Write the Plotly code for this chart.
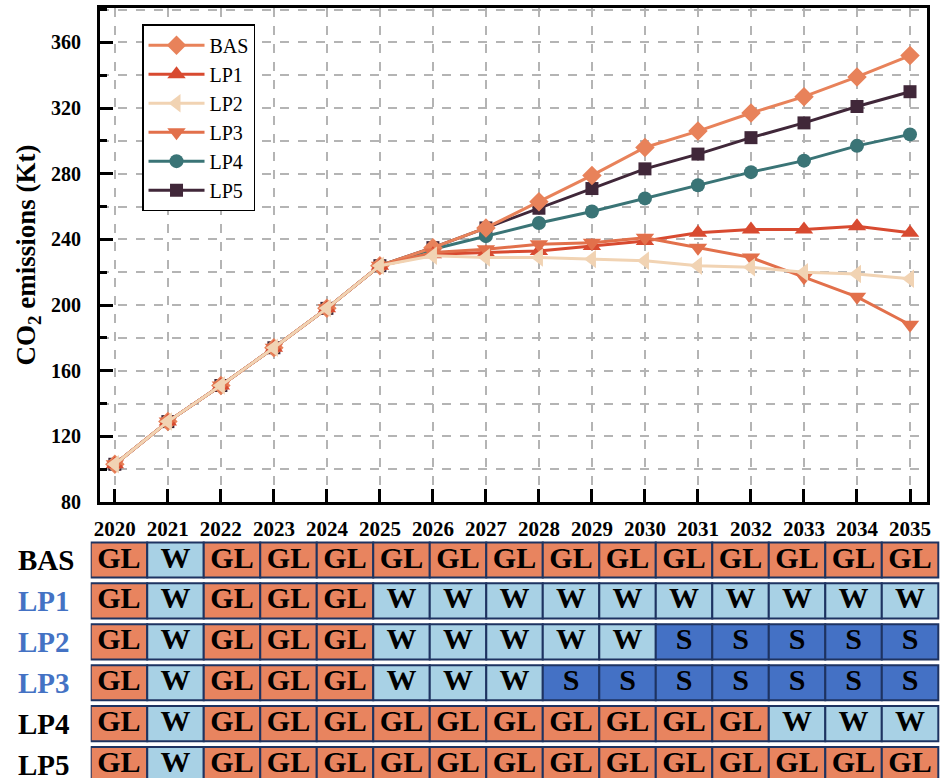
import plotly.graph_objects as go

# ---- emission trajectories (Kt CO2) ----
years = list(range(2020, 2036))
bas = [103, 129, 151, 174, 198, 224, 235, 247, 263, 279, 296, 306, 317, 327, 339, 352]
lp1 = [103, 129, 151, 174, 198, 224, 231, 232, 233, 236, 239, 244, 246, 246, 248, 244]
lp2 = [103, 129, 151, 174, 198, 224, 230, 229, 229, 228, 227, 224, 223, 220, 219, 216]
lp3 = [103, 129, 151, 174, 198, 224, 232, 234, 237, 238, 241, 235, 229, 217, 205, 188]
lp4 = [103, 129, 151, 174, 198, 224, 234, 242, 250, 257, 265, 273, 281, 288, 297, 304]
lp5 = [103, 129, 151, 174, 198, 224, 235, 247, 259, 271, 283, 292, 302, 311, 321, 330]

y_ticks = [80, 120, 160, 200, 240, 280, 320, 360]

# ---- strategy schedule table ----
row_names = ["BAS", "LP1", "LP2", "LP3", "LP4", "LP5"]
row_label_colors = ["#000000", "#4472C4", "#4472C4", "#4472C4", "#000000", "#000000"]
sched_bas = ["GL", "W", "GL", "GL", "GL", "GL", "GL", "GL", "GL", "GL", "GL", "GL", "GL", "GL", "GL"]
sched_lp1 = ["GL", "W", "GL", "GL", "GL", "W", "W", "W", "W", "W", "W", "W", "W", "W", "W"]
sched_lp2 = ["GL", "W", "GL", "GL", "GL", "W", "W", "W", "W", "W", "S", "S", "S", "S", "S"]
sched_lp3 = ["GL", "W", "GL", "GL", "GL", "W", "W", "W", "S", "S", "S", "S", "S", "S", "S"]
sched_lp4 = ["GL", "W", "GL", "GL", "GL", "GL", "GL", "GL", "GL", "GL", "GL", "GL", "W", "W", "W"]
sched_lp5 = ["GL", "W", "GL", "GL", "GL", "GL", "GL", "GL", "GL", "GL", "GL", "GL", "GL", "GL", "GL"]
schedules = [sched_bas, sched_lp1, sched_lp2, sched_lp3, sched_lp4, sched_lp5]
cell_colors = {"GL": "#E8845F", "W": "#A8D1E5", "S": "#4471C5"}

FONT = "Liberation Serif"

series = {
    "BAS": dict(y=bas, color="#E8825A", symbol="diamond", size=15, rank=1),
    "LP1": dict(y=lp1, color="#D84A30", symbol="triangle-up", size=16, rank=2),
    "LP2": dict(y=lp2, color="#F1D3B3", symbol="triangle-left", size=16, rank=3),
    "LP3": dict(y=lp3, color="#E2704B", symbol="triangle-down", size=16, rank=4),
    "LP4": dict(y=lp4, color="#3A7476", symbol="circle", size=14, rank=5),
    "LP5": dict(y=lp5, color="#402739", symbol="square", size=13, rank=6),
}
draw_order = ["LP5", "LP4", "BAS", "LP1", "LP3", "LP2"]

fig = go.Figure()
for name in draw_order:
    s = series[name]
    fig.add_trace(go.Scatter(
        x=years, y=s["y"], name=name, mode="lines+markers",
        line=dict(color=s["color"], width=3),
        marker=dict(symbol=s["symbol"], size=s["size"], color=s["color"]),
        legendrank=s["rank"], xaxis="x", yaxis="y",
    ))

# table cells as horizontal bars on their own axes
cell_x, cell_base, cell_y, cell_col, cell_txt, cell_mid = [], [], [], [], [], []
for r, sched in enumerate(schedules):
    for c, code in enumerate(sched):
        cell_x.append(1)
        cell_base.append(c)
        cell_y.append(r)
        cell_col.append(cell_colors[code])
        cell_txt.append(code)
        cell_mid.append(c + 0.5)

fig.add_trace(go.Bar(
    orientation="h", x=cell_x, base=cell_base, y=cell_y, width=0.86,
    marker=dict(color=cell_col, line=dict(color="#1E3361", width=2)),
    xaxis="x2", yaxis="y2", showlegend=False, hoverinfo="skip",
))
fig.add_trace(go.Scatter(
    x=cell_mid, y=cell_y, mode="text", text=cell_txt,
    textfont=dict(family=FONT, size=30, color="black", weight="bold"),
    xaxis="x2", yaxis="y2", showlegend=False, hoverinfo="skip",
))

for r, (nm, col) in enumerate(zip(row_names, row_label_colors)):
    fig.add_annotation(
        xref="paper", yref="y2", x=-0.084, y=r, xanchor="left", yanchor="middle",
        text=nm, showarrow=False,
        font=dict(family=FONT, size=29, color=col, weight="bold"),
    )

grid = dict(gridcolor="#B4B4B4", griddash="dash", gridwidth=1.5)

fig.update_layout(
    width=940, height=778,
    margin=dict(l=88, r=0, t=8, b=0, autoexpand=False),
    paper_bgcolor="white", plot_bgcolor="white",
    barmode="overlay",
    font=dict(family=FONT, color="black"),
    xaxis=dict(
        domain=[0.0141, 0.9847], range=[2019.72, 2035.32],
        tickvals=years, ticks="inside", ticklen=13, tickwidth=3, tickcolor="black",
        showline=True, linewidth=3, linecolor="black", mirror=True,
        showgrid=True, zeroline=False, ticklabelstandoff=6, automargin=False,
        tickfont=dict(family=FONT, size=21, color="black", weight="bold"),
        anchor="y", **grid,
    ),
    yaxis=dict(
        domain=[0.3584, 1.0], range=[80, 381],
        tickvals=y_ticks, ticks="inside", ticklen=13, tickwidth=3, tickcolor="black",
        showline=True, linewidth=3, linecolor="black", mirror=True,
        showgrid=True, zeroline=False, ticklabelstandoff=12, automargin=False,
        tickfont=dict(family=FONT, size=20, color="black", weight="bold"),
        minor=dict(dtick=20, tick0=80, ticks="inside", ticklen=7, tickwidth=3,
                   tickcolor="black", showgrid=True, **grid),
        title=dict(text="CO<sub>2</sub> emissions (Kt)", standoff=8,
                   font=dict(family=FONT, size=27, color="black", weight="bold")),
        anchor="x", **grid,
    ),
    xaxis2=dict(domain=[0.0032, 1.0], range=[0, 15.03], visible=False, anchor="y2",
                fixedrange=True, automargin=False),
    yaxis2=dict(domain=[0.0, 0.3091], range=[5.33, -0.49], visible=False, anchor="x2",
                fixedrange=True, automargin=False),
    legend=dict(
        x=0.0634, y=0.979, xanchor="left", yanchor="top",
        bgcolor="white", bordercolor="black", borderwidth=1.5,
        font=dict(family=FONT, size=20, color="black"),
        itemwidth=56,
    ),
    showlegend=True,
)

fig.write_html("out.html")
